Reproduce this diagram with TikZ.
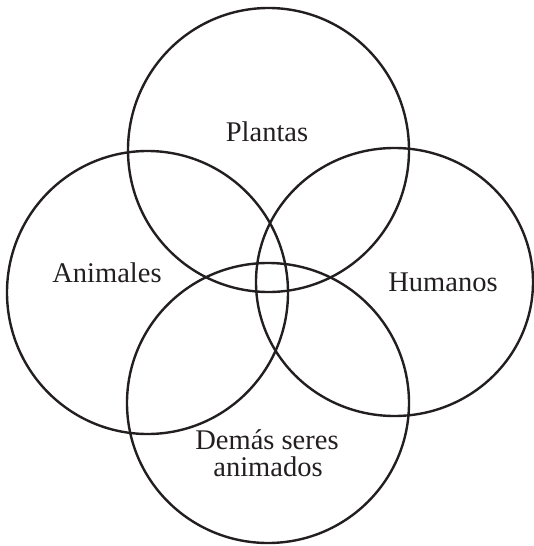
\documentclass[tikz,border=0pt]{standalone}
\usepackage{fontspec}
\setmainfont{Liberation Serif}
\definecolor{ink}{HTML}{231F20}
\begin{document}
\begin{tikzpicture}[x=1pt,y=-1pt,
  ring/.style={draw=ink,line width=2.4pt},
  lbl/.style={text=ink,font=\fontsize{28.5}{27}\selectfont,anchor=base,inner sep=0pt}]
\useasboundingbox (0,0) rectangle (534,546);
\coordinate (cP) at (268.5,150);
\coordinate (cA) at (147.5,292.5);
\coordinate (cH) at (394.5,282);
\coordinate (cD) at (268,403);
\draw[ring] (cP) ellipse [x radius=140.5, y radius=142];
\draw[ring] (cA) ellipse [x radius=140.5, y radius=141.5];
\draw[ring] (cH) ellipse [x radius=138.5, y radius=134];
\draw[ring] (cD) ellipse [x radius=141, y radius=140];
\node[lbl] (tP) at (267,141) {Plantas};
\node[lbl] (tA) at (107,282) {Animales};
\node[lbl] (tH) at (443,291) {Humanos};
\node[lbl] (tD1) at (267,449) {Demás seres};
\node[lbl] (tD2) at (268,476) {animados};
\end{tikzpicture}
\end{document}
